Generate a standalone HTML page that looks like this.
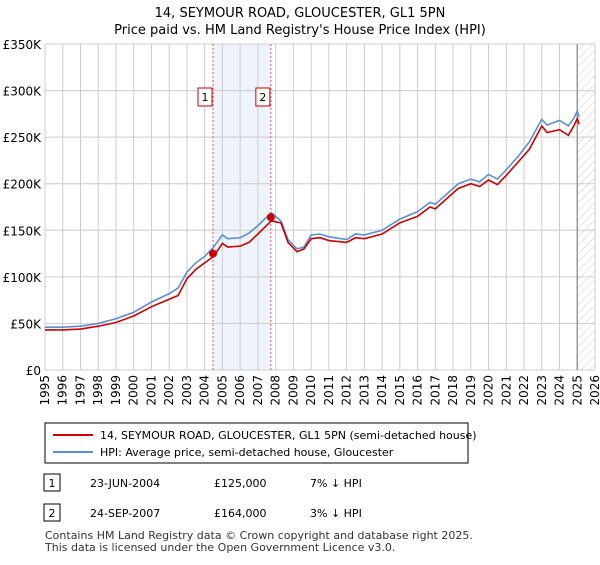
<!DOCTYPE html>
<html><head><meta charset="utf-8"><style>
body{margin:0;background:#fff;font-family:"Liberation Sans","DejaVu Sans",sans-serif;}
svg text{font-family:"DejaVu Sans","Liberation Sans",sans-serif;}
</style></head><body>
<svg width="600" height="560" xmlns="http://www.w3.org/2000/svg" id="chart">
<defs><pattern id="hatch" width="6" height="6" patternUnits="userSpaceOnUse" patternTransform="rotate(45)"><line x1="0" y1="0" x2="0" y2="6" stroke="#ccc" stroke-width="1"/></pattern></defs>
<text x="300" y="17" text-anchor="middle" font-size="13">14, SEYMOUR ROAD, GLOUCESTER, GL1 5PN</text>
<text x="300" y="34" text-anchor="middle" font-size="13">Price paid vs. HM Land Registry's House Price Index (HPI)</text>
<g id="grid"></g><g id="marks"></g>
<rect x="45" y="402" width="0" height="0"/>
<g>
<rect x="45" y="423" width="423" height="40" fill="#fff" stroke="#000" stroke-width="1"/>
<line x1="53" y1="435" x2="93" y2="435" stroke="#cc0000" stroke-width="2"/>
<text x="100" y="439" font-size="11">14, SEYMOUR ROAD, GLOUCESTER, GL1 5PN (semi-detached house)</text>
<line x1="53" y1="452" x2="93" y2="452" stroke="#5b8fd4" stroke-width="2"/>
<text x="100" y="456" font-size="11">HPI: Average price, semi-detached house, Gloucester</text>
</g>
<g>
<rect x="44" y="474" width="16" height="17" fill="#fff" stroke="#000"/><text x="52" y="487" font-size="11" text-anchor="middle">1</text>
<text x="90" y="487" font-size="11">23-JUN-2004</text><text x="214" y="487" font-size="11">£125,000</text><text x="310" y="487" font-size="11">7% ↓ HPI</text></g>
<g>
<rect x="44" y="504" width="16" height="17" fill="#fff" stroke="#000"/><text x="52" y="517" font-size="11" text-anchor="middle">2</text>
<text x="90" y="517" font-size="11">24-SEP-2007</text><text x="214" y="517" font-size="11">£164,000</text><text x="310" y="517" font-size="11">3% ↓ HPI</text></g>
<text x="45" y="539" font-size="11" fill="#333">Contains HM Land Registry data © Crown copyright and database right 2025.</text>
<text x="45" y="551" font-size="11" fill="#333">This data is licensed under the Open Government Licence v3.0.</text>
</svg>
<script>
const yTicks=[0,50000,100000,150000,200000,250000,300000,350000];
const yTickLabels=["£0","£50K","£100K","£150K","£200K","£250K","£300K","£350K"];
const years=[1995,1996,1997,1998,1999,2000,2001,2002,2003,2004,2005,2006,2007,2008,2009,2010,2011,2012,2013,2014,2015,2016,2017,2018,2019,2020,2021,2022,2023,2024,2025,2026];
const hpiDates=[1995,1996,1997,1998,1999,2000,2001,2002,2002.5,2003,2003.5,2004,2004.5,2005,2005.3,2006,2006.5,2007,2007.75,2008.3,2008.7,2009.2,2009.6,2010,2010.5,2011,2012,2012.5,2013,2014,2015,2016,2016.7,2017,2018,2018.3,2019,2019.5,2020,2020.5,2021,2021.7,2022.3,2023,2023.3,2024,2024.5,2024.8,2025.0,2025.1];
const hpiValues=[46000,46000,47000,50000,55000,62000,73000,82000,88000,105000,115000,122000,132000,145000,141000,142000,147000,155000,169000,160000,140000,130000,132000,145000,146000,143000,140000,146000,145000,150000,162000,170000,180000,178000,195000,200000,205000,202000,210000,205000,215000,230000,245000,269000,263000,268000,262000,270000,278000,272000];
const ppDates=hpiDates;
const ppValues=[43000,43000,44000,47000,51000,58000,68000,76000,80000,98000,108000,115000,122000,136000,132000,133000,137000,146000,160000,158000,137000,127000,130000,141000,142000,139000,137000,142000,141000,146000,158000,165000,175000,173000,190000,195000,200000,197000,204000,199000,209000,224000,237000,262000,255000,258000,252000,262000,270000,264000];
const saleDates=[2004.47,2007.73];
const salePrices=[125000,164000];
const saleLabels=["1","2"];
const X0=45,X1=595,Y0=370,Y1=44;
const x=d=>X0+(d-1995)/(2026-1995)*(X1-X0);
const y=v=>Y0-v/350000*(Y0-Y1);
const NS="http://www.w3.org/2000/svg";
function mk(t,a,p){const e=document.createElementNS(NS,t);for(const k in a)e.setAttribute(k,a[k]);p.appendChild(e);return e;}
const g=document.getElementById('grid'),m=document.getElementById('marks');
const band=mk('rect',{x:x(saleDates[0]),y:Y1,width:x(saleDates[1])-x(saleDates[0]),height:Y0-Y1,fill:'#eef3fc'},g);


const hat=mk('rect',{x:x(2025.0),y:Y1,width:X1-x(2025.0),height:Y0-Y1,fill:'url(#hatch)'},g);


yTicks.forEach((v,i)=>{mk('line',{x1:X0,x2:X1,y1:y(v),y2:y(v),stroke:'#ccc'},g);
const t=mk('text',{x:X0-4,y:y(v)+5,'text-anchor':'end','font-size':12},g);t.textContent=yTickLabels[i];

});
years.forEach(yr=>{mk('line',{x1:x(yr),x2:x(yr),y1:Y1,y2:Y0,stroke:'#ccc'},g);
const t=mk('text',{x:0,y:0,'text-anchor':'end','font-size':12,transform:`translate(${x(yr)+4},${Y0+5}) rotate(-90)`},g);t.textContent=yr;

});
mk('line',{x1:x(2025.0),x2:x(2025.0),y1:Y1,y2:Y0,stroke:'#999','stroke-width':1.5},g);
saleDates.forEach((d,i)=>{mk('line',{x1:x(d),x2:x(d),y1:Y1,y2:Y0,stroke:'#e55','stroke-dasharray':'2,2'},g);
const r=mk('rect',{x:x(d)-15,y:88,width:14,height:18,fill:'#fff',stroke:'#c00'},m);


const t=mk('text',{x:x(d)-8,y:101,'text-anchor':'middle','font-size':11},m);t.textContent=saleLabels[i];});
const line=(ds,vs,c,n)=>{const p=mk('polyline',{points:ds.map((d,i)=>x(d)+','+y(vs[i])).join(' '),fill:'none',stroke:c,'stroke-width':1.6},m);

};
line(hpiDates,hpiValues,'#5b8fd4','hpi-line');
line(ppDates,ppValues,'#cc0000','price-paid-line');
saleDates.forEach((d,i)=>{const c=mk('circle',{cx:x(d),cy:y(salePrices[i]),r:4,fill:'#cc0000'},m);

});
</script>
</body></html>
